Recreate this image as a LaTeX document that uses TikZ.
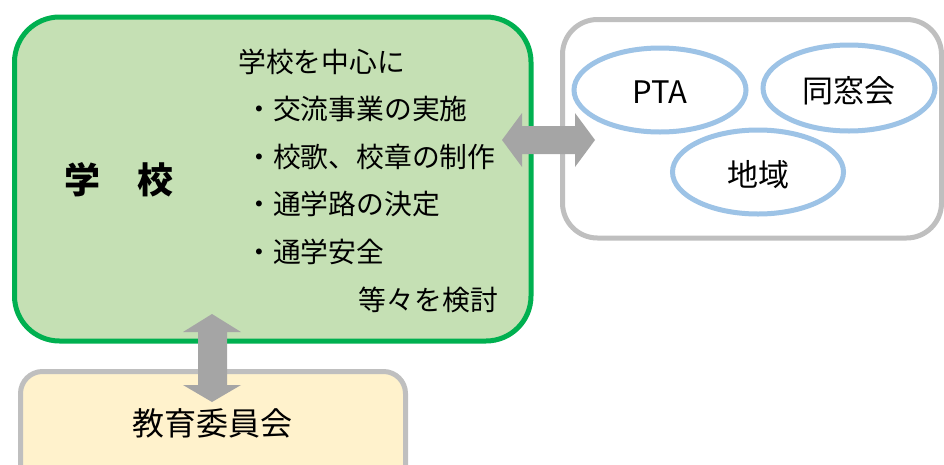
\documentclass[tikz,border=0pt]{standalone}
\usepackage{fontspec}
\usetikzlibrary{shapes.geometric}
\setmainfont{Noto Sans CJK JP}
\newfontfamily\jpfont{Noto Sans CJK JP}
\definecolor{greenfill}{HTML}{C5E0B4}
\definecolor{greenline}{HTML}{00B050}
\definecolor{boxgray}{HTML}{BFBFBF}
\definecolor{arrowgray}{HTML}{A5A5A5}
\definecolor{ovalblue}{HTML}{9DC3E6}
\definecolor{yellowfill}{HTML}{FFF2CC}
\begin{document}
\begin{tikzpicture}[x=1pt,y=-1pt,
  panel/.style={line width=5pt},
  oval/.style={draw=ovalblue,line width=5pt,fill=white},
  bigarrow/.style={fill=arrowgray,draw=none},
  txt/.style={inner sep=0pt,font=\jpfont\fontsize{27.8}{27.8}\selectfont,text=black},
  ovtxt/.style={inner sep=0pt,font=\jpfont\fontsize{31}{31}\selectfont,text=black}]
\useasboundingbox (0,0) rectangle (944,464);
\clip (0,0) rectangle (944,464);
% school box
\draw[panel,draw=greenline,fill=greenfill,rounded corners=45pt] (14.5,17) rectangle (531,341);
\coordinate (school) at (272,179);
% community box
\draw[panel,draw=boxgray,fill=white,rounded corners=35pt] (562.5,19.5) rectangle (941.5,238);
% board box
\draw[panel,draw=boxgray,fill=yellowfill,rounded corners=22pt] (20.5,371.5) rectangle (405.5,490);
% ovals
\node[oval,ellipse,minimum width=172,minimum height=84] (pta) at (660,90) {};
\node[ovtxt] at (660,92) {PTA};
\node[oval,ellipse,minimum width=172,minimum height=86] (dos) at (849,88) {};
\node[ovtxt] at (849,91) {同窓会};
\node[oval,ellipse,minimum width=171,minimum height=84] (chi) at (758,172) {};
\node[ovtxt] at (758,175) {地域};
% texts
\node[inner sep=0pt,font=\jpfont\bfseries\fontsize{36}{36}\selectfont] (gakko) at (119,180) {学\hspace{1.05em}校};
\node[txt,anchor=west] (l0) at (238,62) {学校を中心に};
\node[txt,anchor=west] (l1) at (245,109) {・交流事業の実施};
\node[txt,anchor=west] (l2) at (245,157) {・校歌、校章の制作};
\node[txt,anchor=west] (l3) at (245,204) {・通学路の決定};
\node[txt,anchor=west] (l4) at (245,252) {・通学安全};
\node[txt,anchor=east] (l5) at (498,300) {等々を検討};
\node[inner sep=0pt,font=\jpfont\fontsize{32}{32}\selectfont] (board) at (212,423) {教育委員会};
% horizontal double arrow
\fill[bigarrow] (502,140) -- (522,113) -- (522,126) -- (575,126) -- (575,113) -- (595,140)
  -- (575,167) -- (575,154) -- (522,154) -- (522,167) -- cycle;
% vertical double arrow
\fill[bigarrow] (212,314) -- (241,332) -- (227,332) -- (227,385) -- (241,385) -- (212,402)
  -- (183,385) -- (198,385) -- (198,332) -- (183,332) -- cycle;
\end{tikzpicture}
\end{document}
